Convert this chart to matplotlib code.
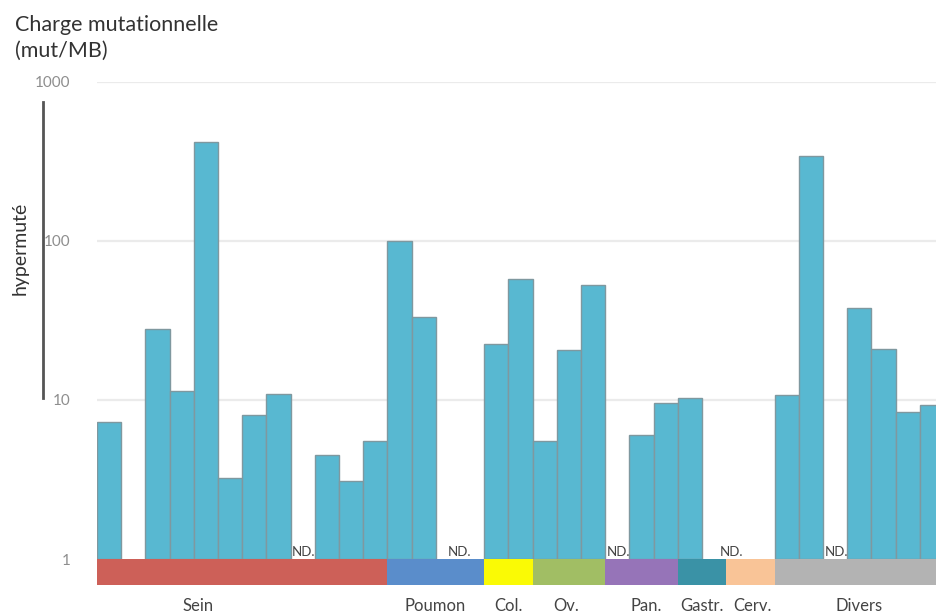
#mutational burden bar chart

import numpy as np
import matplotlib.pyplot as plt
from matplotlib.lines import Line2D

############# DATA ###############

# one value per slot along the x axis, None = no bar
charge = [7.3, None, 28, 11.3, 415, 3.25, 8.0, 10.9, None, 4.5, 3.1, 5.5,   # Sein
          100, 33, None, None,                                              # Poumon
          22.5, 57.5,                                                       # Col.
          5.5, 20.5, 52.5,                                                  # Ov.
          None, 6.0, 9.5,                                                   # Pan.
          10.2, None,                                                       # Gastr.
          None, None,                                                       # Cerv.
          10.8, 340, None, 37.5, 21, 8.4, 9.3]                              # Divers

categories = ['Sein', 'Poumon', 'Col.', 'Ov.', 'Pan.', 'Gastr.', 'Cerv.', 'Divers']
n_slots = [12, 4, 2, 3, 3, 2, 2, 7]
cat_colors = ['#CD6058', '#5A8DCB', '#FAFA05', '#A1BE64', '#9674B8',
              '#3A92A6', '#F9C497', '#B3B3B3']
label_pos = [3.67, 13.47, 16.5, 18.9, 22.2, 24.5, 26.6, 31.0]

nd_pos = [8.05, 14.5, 21.05, 25.7, 30.05]   # where "ND." is written

yticks = [1, 10, 100, 1000]

#################  PLOT  ###############################

plt.rcParams['font.family'] = ['Lato', 'DejaVu Sans']

fig = plt.figure(figsize=(9.36, 6.15), dpi=100)
ax = fig.add_axes([97/936, 1 - 585/615, 1 - 97/936, (585 - 81.5)/615])

ax.set_yscale('log')
y_min = 0.687
ax.set_ylim(y_min, 1000)
ax.set_xlim(-0.5, 34.17)

# grid lines
for t in yticks[1:]:
    ax.axhline(t, color='#EBEBEB', lw=1.6, zorder=0)

# bars (start at 1 = baseline)
x = np.array([i for i, v in enumerate(charge) if v is not None])
v = np.array([v for v in charge if v is not None])
ax.bar(x, v - 1, bottom=1, width=1.0, color='#58B8D1',
       edgecolor='#7F989F', linewidth=1.0, zorder=2)

# category band below the bars
start = np.cumsum([0] + n_slots[:-1])
centers = start - 0.5 + np.array(n_slots)/2
ax.bar(centers, 1 - y_min, bottom=y_min, width=n_slots, color=cat_colors,
       linewidth=0, zorder=3)

for xp in nd_pos:
    ax.text(xp, 1.02, 'ND.', ha='center', va='bottom', fontsize=9.5,
            color='#444444', zorder=4)

for name, xp in zip(categories, label_pos):
    ax.annotate(name, xy=(xp, 0), xycoords=('data', 'axes fraction'),
                xytext=(0, -13), textcoords='offset pixels',
                ha='center', va='top', fontsize=12, color='#444444')

ax.set_yticks(yticks, [str(t) for t in yticks])
ax.minorticks_off()
ax.tick_params(axis='y', length=0, pad=19, labelsize=11, labelcolor='#8E8E8E')
ax.set_xticks([])
for s in ax.spines.values():
    s.set_visible(False)

# titles and the "hypermuté" marker on the left
fig.text(15/936, 1 - 31/615, 'Charge mutationnelle', fontsize=15.5,
         color='#333333', va='baseline')
fig.text(15/936, 1 - 57/615, '(mut/MB)', fontsize=15.5,
         color='#333333', va='baseline')

fig.add_artist(Line2D([43/936, 43/936], [1 - 102/615, 1 - 398/615],
                      color='#555555', lw=2))
fig.text(20/936, 1 - 248/615, 'hypermuté', rotation=90, ha='center',
         va='center', fontsize=14, color='#333333')

plt.savefig('out.png', dpi=100)
plt.close()
